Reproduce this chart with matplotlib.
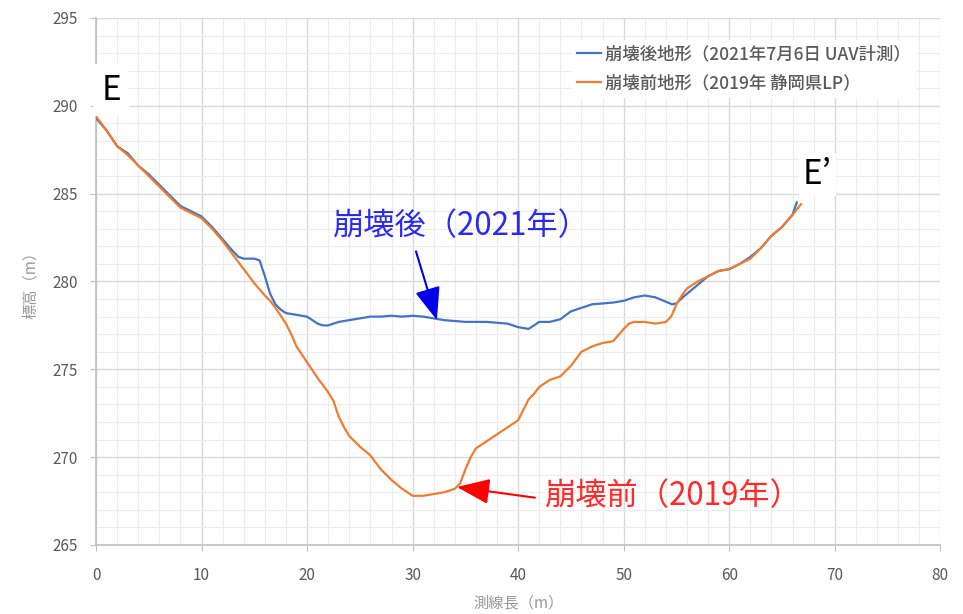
import matplotlib
matplotlib.use("Agg")
import matplotlib.pyplot as plt
from matplotlib.ticker import MultipleLocator

plt.rcParams['font.family'] = ['Noto Sans CJK JP', 'DejaVu Sans']

# 崩壊後地形 (2021, UAV)
after_x = [0, 1, 2, 3, 4, 5, 6, 7, 8, 9, 10, 11, 12, 13, 13.5, 14, 15, 15.5, 16, 16.5,
           17, 17.5, 18, 19, 20, 21, 21.5, 22, 22.5, 23, 24, 25, 26, 27, 28, 29, 30, 31,
           32, 33, 34, 35, 36, 37, 38, 39, 40, 41, 42, 43, 44, 45, 46, 47, 48, 49, 50,
           51, 52, 53, 54, 54.6, 55, 55.6, 56, 57, 58, 59, 60, 61, 62, 63, 64, 65, 66, 66.4]
after_y = [289.3, 288.6, 287.7, 287.3, 286.6, 286.1, 285.5, 284.9, 284.3, 284.0, 283.7,
           283.1, 282.4, 281.7, 281.4, 281.3, 281.3, 281.2, 280.3, 279.3, 278.7, 278.4,
           278.2, 278.1, 278.0, 277.6, 277.5, 277.5, 277.6, 277.7, 277.8, 277.9, 278.0,
           278.0, 278.05, 278.0, 278.05, 278.0, 277.9, 277.8, 277.75, 277.7, 277.7, 277.7,
           277.65, 277.6, 277.4, 277.3, 277.7, 277.7, 277.85, 278.3, 278.5, 278.7, 278.75,
           278.8, 278.9, 279.1, 279.2, 279.1, 278.85, 278.7, 278.75, 279.1, 279.3, 279.8,
           280.3, 280.6, 280.7, 281.0, 281.4, 281.9, 282.6, 283.1, 283.8, 284.5]

# 崩壊前地形 (2019, LP)
before_x = [0, 1, 2, 3, 4, 5, 6, 7, 8, 9, 10, 11, 12, 13, 14, 15, 16, 16.5, 17, 18, 18.5,
            19, 20, 21, 22, 22.5, 23, 23.5, 24, 25, 26, 27, 28, 29, 30, 31, 32, 33, 34,
            34.5, 35, 35.5, 36, 37, 38, 39, 40, 41, 41.5, 42, 43, 44, 45, 46, 47, 48, 49,
            50, 50.5, 51, 52, 53, 54, 54.5, 55, 55.5, 56, 57, 58, 59, 60, 61, 62, 63, 64,
            65, 66, 66.8]
before_y = [289.4, 288.6, 287.7, 287.2, 286.6, 286.0, 285.4, 284.8, 284.2, 283.9, 283.6,
            283.0, 282.3, 281.5, 280.7, 279.9, 279.2, 278.9, 278.5, 277.6, 277.0, 276.3,
            275.4, 274.5, 273.7, 273.2, 272.3, 271.7, 271.2, 270.6, 270.1, 269.3, 268.7,
            268.2, 267.8, 267.8, 267.9, 268.0, 268.2, 268.5, 269.3, 270.0, 270.5, 270.9,
            271.3, 271.7, 272.1, 273.3, 273.6, 274.0, 274.4, 274.6, 275.2, 276.0, 276.3,
            276.5, 276.6, 277.3, 277.6, 277.7, 277.7, 277.6, 277.7, 278.0, 278.7, 279.2,
            279.6, 280.0, 280.3, 280.6, 280.7, 281.0, 281.3, 281.9, 282.6, 283.1, 283.8,
            284.4]

after_label = "崩壊後地形（2021年7月6日 UAV計測）"
before_label = "崩壊前地形（2019年 静岡県LP）"

fig = plt.figure(figsize=(9.63, 6.14), dpi=100)
ax = fig.add_axes([0.0997, 0.1124, 0.8767, 0.8583])

ax.plot(after_x, after_y, color="#4472C4", lw=1.6, label=after_label, zorder=3)
ax.plot(before_x, before_y, color="#ED7D31", lw=1.6, label=before_label, zorder=3)

ax.set_xlim(0, 80)
ax.set_ylim(265, 295)
ax.xaxis.set_major_locator(MultipleLocator(10))
ax.xaxis.set_minor_locator(MultipleLocator(2))
ax.yaxis.set_major_locator(MultipleLocator(5))
ax.yaxis.set_minor_locator(MultipleLocator(1))
ax.grid(which="major", color="#d9d9d9", lw=1.0, zorder=0)
ax.grid(which="minor", color="#ececec", lw=0.8, zorder=0)
ax.set_axisbelow(True)
for s in ["top", "right"]:
    ax.spines[s].set_visible(False)
for s in ["left", "bottom"]:
    ax.spines[s].set_color("#bfbfbf")
    ax.spines[s].set_linewidth(1.2)
ax.tick_params(which="major", length=4, color="#bfbfbf", labelsize=11,
               labelcolor="#595959")
ax.tick_params(axis="x", which="major", pad=12)
ax.tick_params(axis="y", which="major", pad=9)
ax.tick_params(which="minor", length=0)

ax.set_xlabel("測線長（m）", color="#999999", fontsize=11, labelpad=7)
ax.set_ylabel("標高（m）", color="#999999", fontsize=11, labelpad=10)

leg = ax.legend(loc="upper left", bbox_to_anchor=(0.553, 0.975), fontsize=12.5,
                frameon=True, facecolor="white", edgecolor="none", framealpha=1,
                handlelength=1.4, handletextpad=0.2, labelspacing=0.65,
                borderpad=0.3)
for t in leg.get_texts():
    t.set_color("#5a5a5a")
    t.set_fontweight("medium")

box = dict(facecolor="white", edgecolor="none", pad=6)
ax.text(0.5, 289.9, "E", fontsize=24, color="black", ha="left", va="bottom",
        bbox=box, zorder=5)
ax.text(67.0, 285.1, "E’", fontsize=24, color="black", ha="left", va="bottom",
        bbox=dict(facecolor="white", edgecolor="none", pad=3), zorder=5)

ax.annotate("崩壊後（2021年）", xy=(32.3, 277.8), xytext=(22.5, 282.25),
            fontsize=22.5, color="#2b2bf0", ha="left", va="bottom", zorder=6,
            arrowprops=dict(arrowstyle="-|>,head_length=0.9,head_width=0.35",
                            color="#0000ee", lw=1.5, shrinkA=5, shrinkB=0,
                            relpos=(0.31, 0.0)))
ax.annotate("崩壊前（2019年）", xy=(34.2, 268.3), xytext=(42.5, 267.8),
            fontsize=22.5, color="#ff2a2a", ha="left", va="center", zorder=6,
            arrowprops=dict(arrowstyle="-|>,head_length=0.9,head_width=0.35",
                            color="#ff0000", lw=1.5, shrinkA=5, shrinkB=0,
                            relpos=(0.0, 0.4)))

fig.savefig("out.png", dpi=100)
